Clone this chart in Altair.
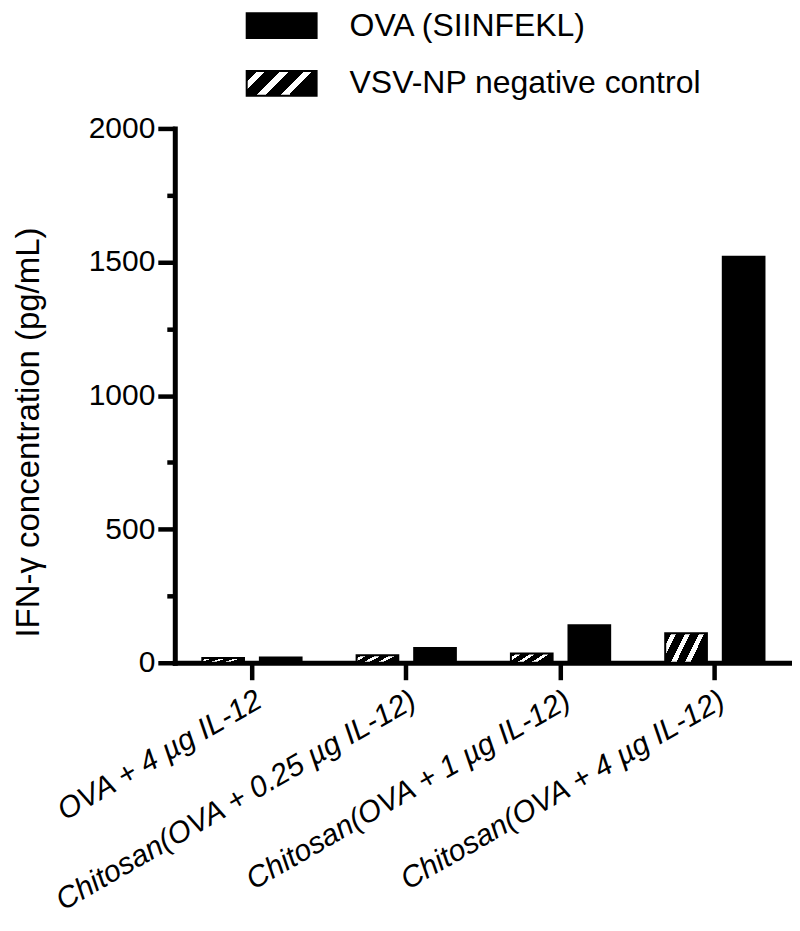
import altair as alt
import pandas as pd

groups = [
    "OVA + 4 µg IL-12",
    "Chitosan(OVA + 0.25 µg IL-12)",
    "Chitosan(OVA + 1 µg IL-12)",
    "Chitosan(OVA + 4 µg IL-12)",
]
series = ["OVA (SIINFEKL)", "VSV-NP negative control"]
ova_values = [20, 55, 140, 1520]
vsv_values = [18, 28, 35, 110]
y_ticks = [0, 250, 500, 750, 1000, 1250, 1500, 1750, 2000]

rows = []
for g, o, v in zip(groups, ova_values, vsv_values):
    rows.append({"group": g, "series": series[1], "value": v})
    rows.append({"group": g, "series": series[0], "value": o})
df = pd.DataFrame(rows)

FONT = "Liberation Sans"

hatch = (
    "{gradient: 'linear', x1: 0, y1: 0, x2: 1, y2: 0.35, stops: ["
    "{offset: 0, color: 'black'}, {offset: 0.13, color: 'black'},"
    "{offset: 0.13, color: 'white'}, {offset: 0.24, color: 'white'},"
    "{offset: 0.24, color: 'black'}, {offset: 0.43, color: 'black'},"
    "{offset: 0.43, color: 'white'}, {offset: 0.54, color: 'white'},"
    "{offset: 0.54, color: 'black'}, {offset: 0.73, color: 'black'},"
    "{offset: 0.73, color: 'white'}, {offset: 0.84, color: 'white'},"
    "{offset: 0.84, color: 'black'}, {offset: 1, color: 'black'}]}"
)

chart = (
    alt.Chart(df)
    .mark_bar(stroke="black", strokeWidth=2)
    .encode(
        x=alt.X(
            "group:N",
            sort=groups,
            scale=alt.Scale(paddingInner=0, paddingOuter=0),
            axis=alt.Axis(
                title=None,
                labelAngle=330,
                labelAlign="right",
                labelBaseline="top",
                labelFontSize=30,
                labelFontStyle="italic",
                labelFont=FONT,
                labelColor="black",
                labelPadding=5,
                tickSize=17,
                tickWidth=4.5,
                tickColor="black",
                domainColor="black",
                domainWidth=5,
                domainCap="square",
                labelLimit=0,
            ),
        ),
        xOffset=alt.XOffset(
            "series:N",
            sort=[series[1], series[0]],
            scale=alt.Scale(paddingInner=0.276, paddingOuter=0.478),
        ),
        y=alt.Y(
            "value:Q",
            scale=alt.Scale(domain=[0, 2000], nice=False),
            axis=alt.Axis(
                title="IFN-γ concentration (pg/mL)",
                titleFontSize=33,
                titleFont=FONT,
                titleFontWeight="normal",
                titleColor="black",
                titleX=-129,
                titleY=304,
                values=y_ticks,
                format="d",
                labelExpr="datum.value % 500 == 0 ? datum.label : ''",
                labelFontSize=30,
                labelFont=FONT,
                labelColor="black",
                labelPadding=3,
                tickSize={"condition": {"test": "datum.value % 500 == 0", "value": 17}, "value": 8},
                tickWidth=4.5,
                tickColor="black",
                domainColor="black",
                domainWidth=5,
                domainCap="square",
                grid=False,
            ),
        ),
        fill=alt.Fill(
            "series:N",
            scale=alt.Scale(domain=series, range=["black", alt.ExprRef(hatch)]),
            legend=alt.Legend(
                orient="none",
                legendX=86,
                legendY=-124,
                title=None,
                padding=0,
                symbolType="M-1.75,-0.62H1.75V0.62H-1.75Z",
                symbolSize=1600,
                symbolStrokeColor="black",
                symbolStrokeWidth=2,
                symbolOpacity=1,
                labelFontSize=32,
                labelFont=FONT,
                labelColor="black",
                labelOffset=47,
                rowPadding=20,
                labelLimit=0,
            ),
        ),
    )
    .properties(
        width=618,
        height=535,
        padding={"left": 167, "top": 120, "right": 0, "bottom": 260},
        autosize=alt.AutoSizeParams(type="none"),
    )
    .configure_view(stroke=None)
)

chart.save("out.html", embed_options={"renderer": "svg", "actions": False})
